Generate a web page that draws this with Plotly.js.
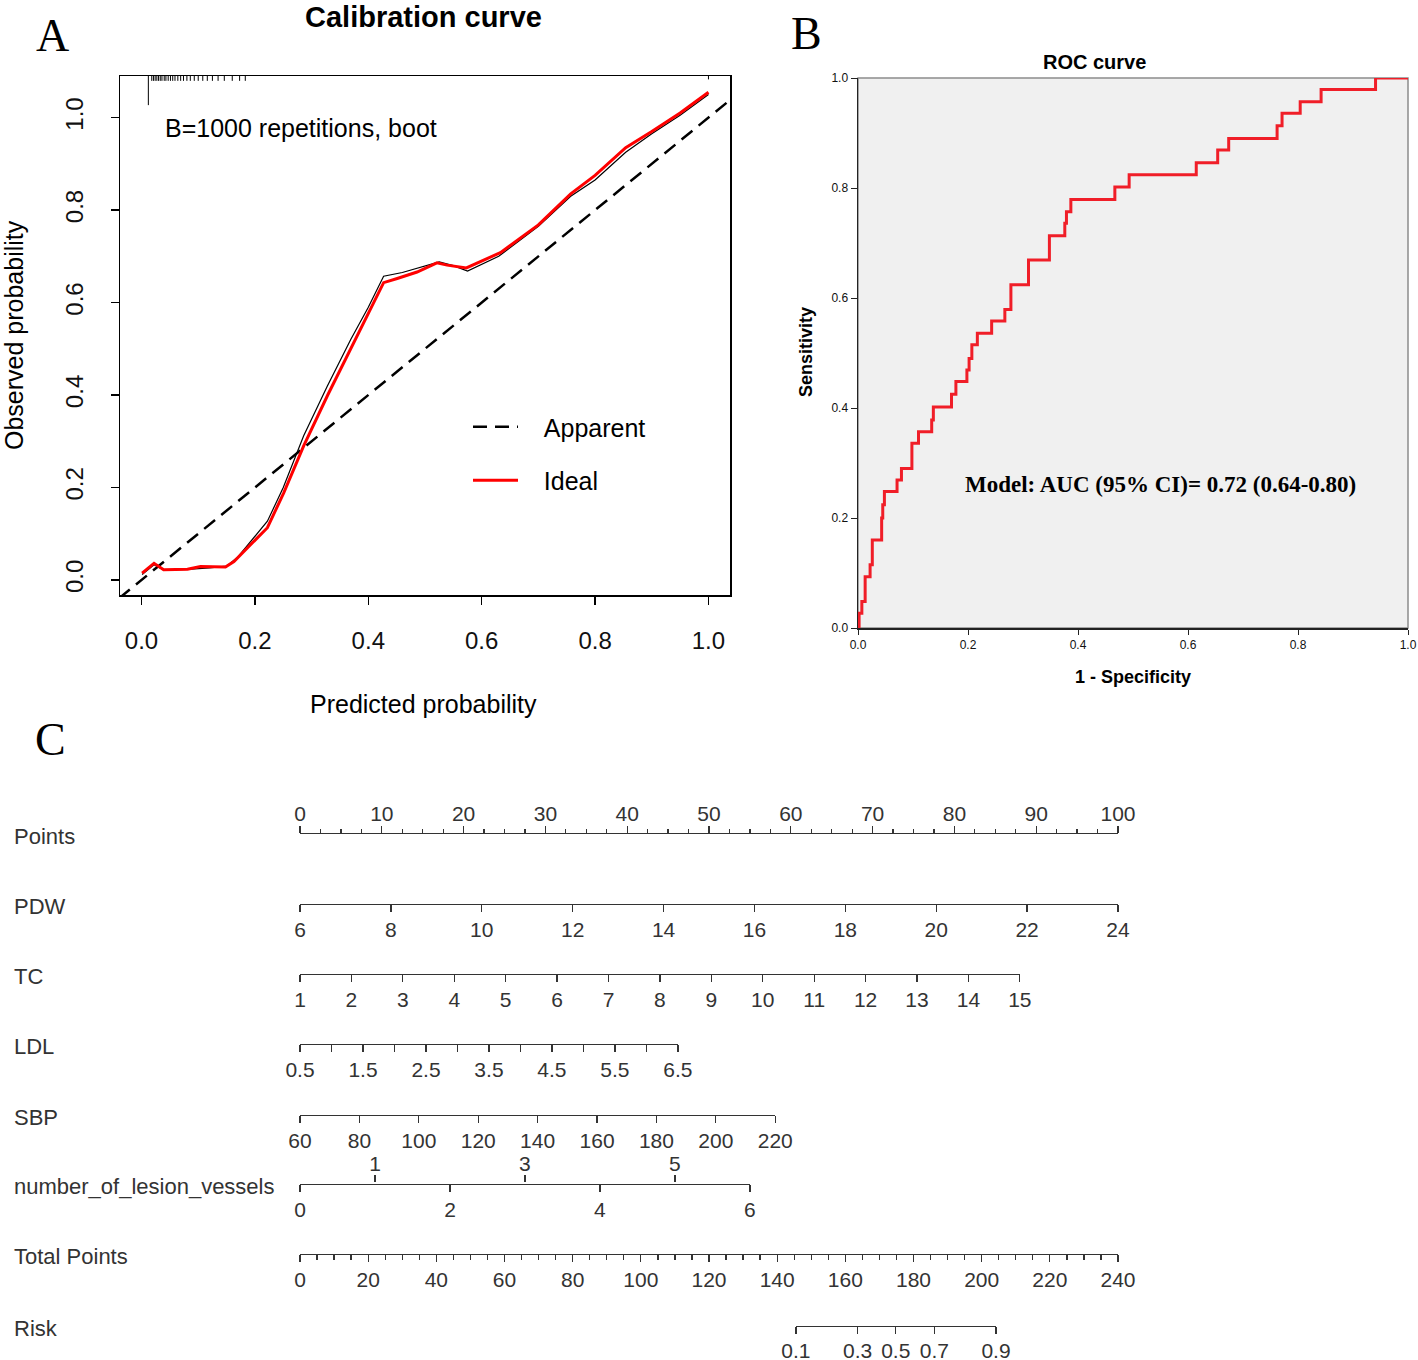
<!DOCTYPE html>
<html><head><meta charset="utf-8">
<script src="https://cdn.plot.ly/plotly-3.0.1.min.js"></script>
<style>html,body{margin:0;padding:0;background:#fff}#chart{width:1418px;height:1360px}</style>
</head><body><div id="chart"></div>
<script>
// ---------------- Panel A: calibration curve ----------------
const calTicks = [0, 0.2, 0.4, 0.6, 0.8, 1.0];
const calXRange = [-0.038, 1.038];
const calYRange = [-0.0325, 1.09];
const calDiagX = [-0.1, 1.1];
const calDiagY = [-0.1, 1.1];
const calRedX = [0.001,0.022,0.039,0.081,0.104,0.122,0.148,0.163,0.222,0.251,0.286,0.328,0.369,0.398,0.427,0.451,0.486,0.521,0.539,0.573,0.633,0.700,0.757,0.800,0.854,0.900,0.950,1.000];
const calRedY = [0.015,0.036,0.022,0.023,0.029,0.028,0.028,0.040,0.113,0.189,0.290,0.399,0.501,0.574,0.643,0.652,0.666,0.686,0.681,0.675,0.708,0.768,0.835,0.875,0.935,0.970,1.010,1.055];
const calBlackX = [0.001,0.022,0.039,0.081,0.120,0.150,0.170,0.222,0.250,0.286,0.328,0.369,0.400,0.427,0.460,0.490,0.525,0.550,0.575,0.630,0.700,0.757,0.800,0.854,0.900,0.950,1.000];
const calBlackY = [0.012,0.033,0.022,0.023,0.026,0.030,0.050,0.127,0.200,0.312,0.420,0.520,0.590,0.657,0.665,0.675,0.688,0.680,0.668,0.700,0.765,0.830,0.865,0.925,0.965,1.005,1.050];
const rugX = [0.012,0.018,0.021,0.024,0.027,0.030,0.033,0.036,0.040,0.043,0.047,0.051,0.055,0.059,0.064,0.069,0.074,0.080,0.086,0.093,0.100,0.108,0.116,0.125,0.135,0.146,0.160,0.173,0.183,1.0];
const rugFreq = [6,1,1,1,1,1,1,1,1,1,1,1,1,1,1,1,1,1,1,1,1,1,1,1,1,1,1,1,1,0.7];
const calNote = 'B=1000 repetitions, boot';
const calLegendNames = ['Apparent', 'Ideal'];

// ---------------- Panel B: ROC curve ----------------
const rocFpr = [0,0.002,0.002,0.007,0.007,0.013,0.013,0.022,0.022,0.026,0.026,0.043,0.043,0.045,0.045,0.048,0.048,0.071,0.071,0.079,0.079,0.098,0.098,0.110,0.110,0.134,0.134,0.137,0.137,0.170,0.170,0.178,0.178,0.198,0.198,0.202,0.202,0.207,0.207,0.217,0.217,0.243,0.243,0.267,0.267,0.278,0.278,0.310,0.310,0.348,0.348,0.376,0.376,0.379,0.379,0.387,0.387,0.467,0.467,0.493,0.493,0.615,0.615,0.654,0.654,0.674,0.674,0.762,0.762,0.771,0.771,0.804,0.804,0.842,0.842,0.941,0.941,1.0];
const rocTpr = [0,0,0.027,0.027,0.048,0.048,0.093,0.093,0.115,0.115,0.160,0.160,0.200,0.200,0.224,0.224,0.248,0.248,0.269,0.269,0.290,0.290,0.336,0.336,0.357,0.357,0.378,0.378,0.402,0.402,0.425,0.425,0.448,0.448,0.469,0.469,0.490,0.490,0.515,0.515,0.536,0.536,0.558,0.558,0.579,0.579,0.624,0.624,0.669,0.669,0.713,0.713,0.736,0.736,0.757,0.757,0.779,0.779,0.802,0.802,0.824,0.824,0.846,0.846,0.869,0.869,0.890,0.890,0.913,0.913,0.936,0.936,0.957,0.957,0.979,0.979,1.0,1.0];
const rocTicks = [0, 0.2, 0.4, 0.6, 0.8, 1.0];
const rocAucText = 'Model: AUC (95% CI)= 0.72 (0.64-0.80)';

// ---------------- Panel C: nomogram ----------------
const nomRowNames = ['Points','PDW','TC','LDL','SBP','number_of_lesion_vessels','Total Points','Risk'];
const pointsTicks = [0,10,20,30,40,50,60,70,80,90,100];
const pdwTicks = [6,8,10,12,14,16,18,20,22,24];
const pdwMaxPoints = 100;
const tcTicks = [1,2,3,4,5,6,7,8,9,10,11,12,13,14,15];
const tcMaxPoints = 88;
const ldlTicks = [0.5,1,1.5,2,2.5,3,3.5,4,4.5,5,5.5,6,6.5];
const ldlLabels = [0.5,1.5,2.5,3.5,4.5,5.5,6.5];
const ldlMaxPoints = 46.2;
const sbpTicks = [60,80,100,120,140,160,180,200,220];
const sbpMaxPoints = 58.1;
const lesionTicksBelow = [0,2,4,6];
const lesionTicksAbove = [1,3,5];
const lesionMaxPoints = 55;
const totalTicks = [0,20,40,60,80,100,120,140,160,180,200,220,240];
const riskLabels = ['0.1','0.3','0.5','0.7','0.9'];
const riskTotalPoints = [145.5,163.6,174.8,186.1,204.2];

// ---------------- layout helpers ----------------
const W = 1418, H = 1360;
const fx = p => p / W;
const fy = p => 1 - p / H;
const SANS = 'Liberation Sans, Arial, sans-serif';
const SERIF = 'Liberation Serif, Times New Roman, serif';
const GAP = '\u00a0\u00a0\u00a0';

const traces = [];
// rug
const rugTop = calYRange[1];
const rugUnit = 0.0105;
const rugXs = [], rugYs = [];
rugX.forEach((v, i) => { rugXs.push(v, v, null); rugYs.push(rugTop, rugTop - rugFreq[i] * rugUnit, null); });
traces.push({type:'scatter', mode:'lines', x:rugXs, y:rugYs, xaxis:'x', yaxis:'y', line:{color:'#000', width:1}, showlegend:false, hoverinfo:'skip'});
traces.push({type:'scatter', mode:'lines', x:calDiagX, y:calDiagY, xaxis:'x', yaxis:'y', name:GAP + calLegendNames[0], legendgroup:'a', line:{color:'#000', width:2.5, dash:'14px,8px'}});
traces.push({type:'scatter', mode:'lines', x:calBlackX, y:calBlackY, xaxis:'x', yaxis:'y', line:{color:'#000', width:1.2}, showlegend:false, hoverinfo:'skip'});
traces.push({type:'scatter', mode:'lines', x:calRedX, y:calRedY, xaxis:'x', yaxis:'y', name:GAP + calLegendNames[1], legendgroup:'b', line:{color:'#ff0000', width:3}});
// ROC
traces.push({type:'scatter', mode:'lines', x:rocFpr, y:rocTpr, xaxis:'x2', yaxis:'y2', line:{color:'rgb(240,30,40)', width:3}, showlegend:false});

const layout = {
  width: W, height: H,
  margin: {l:0, r:0, t:0, b:0},
  paper_bgcolor: '#fff', plot_bgcolor: '#fff',
  font: {family: SANS, color: '#000'},
  showlegend: true,
  legend: {x: fx(468), y: fy(404), xanchor:'left', yanchor:'top', bgcolor:'rgba(0,0,0,0)', font:{size:25, family:SANS}, itemwidth:45, tracegroupgap:18},
  xaxis: {domain:[fx(120), fx(730)], range:calXRange, anchor:'y', showline:true, mirror:true, linecolor:'#000', linewidth:1.5,
          tickmode:'array', tickvals:calTicks, tickformat:'.1f', ticks:'outside', ticklen:8, tickwidth:1.3, tickcolor:'#000',
          tickfont:{size:24, color:'#111'}, ticklabelstandoff:16, showgrid:false, zeroline:false, fixedrange:true},
  yaxis: {domain:[fy(595), fy(76)], range:calYRange, anchor:'x', showline:true, mirror:true, linecolor:'#000', linewidth:1.5,
          tickmode:'array', tickvals:calTicks, tickformat:'.1f', ticks:'outside', ticklen:8, tickwidth:1.3, tickcolor:'#000',
          tickangle:-90, tickfont:{size:24, color:'#111'}, ticklabelstandoff:18, showgrid:false, zeroline:false, fixedrange:true},
  xaxis2: {domain:[fx(858), fx(1408)], range:[0,1], anchor:'y2', showline:true, linecolor:'#222', linewidth:1.5,
           tickmode:'array', tickvals:rocTicks, tickformat:'.1f', ticks:'outside', ticklen:5, tickcolor:'#222',
           tickfont:{size:12, color:'#111'}, showgrid:false, zeroline:false, fixedrange:true},
  yaxis2: {domain:[fy(628), fy(78)], range:[0,1], anchor:'x2', showline:true, linecolor:'#222', linewidth:1.5,
           tickmode:'array', tickvals:rocTicks, tickformat:'.1f', ticks:'outside', ticklen:6, tickcolor:'#222',
           tickfont:{size:12, color:'#111'}, showgrid:false, zeroline:false, fixedrange:true},
  shapes: [
    {type:'rect', xref:'x2 domain', yref:'y2 domain', x0:0, x1:1, y0:0, y1:1, fillcolor:'#f0f0f0', line:{color:'#8c8c8c', width:1.5}, layer:'below'}
  ],
  annotations: []
};

// calibration texts
layout.annotations.push(
  {text:'<b>Calibration curve</b>', xref:'paper', yref:'paper', x:fx(423), y:fy(17), xanchor:'center', yanchor:'middle', showarrow:false, font:{size:29, family:SANS}},
  {text:'Predicted probability', xref:'paper', yref:'paper', x:fx(424), y:fy(704), xanchor:'center', yanchor:'middle', showarrow:false, font:{size:25, family:SANS}},
  {text:'Observed probability', xref:'paper', yref:'paper', x:fx(14), y:fy(335), xanchor:'center', yanchor:'middle', textangle:-90, showarrow:false, font:{size:25, family:SANS}},
  {text:calNote, xref:'x', yref:'y', x:0.038, y:0.978, xanchor:'left', yanchor:'middle', showarrow:false, font:{size:25, family:SANS}},
  {text:'A', xref:'paper', yref:'paper', x:fx(52), y:fy(35), xanchor:'center', yanchor:'middle', showarrow:false, font:{size:46, family:SERIF}},
  {text:'B', xref:'paper', yref:'paper', x:fx(806), y:fy(33), xanchor:'center', yanchor:'middle', showarrow:false, font:{size:46, family:SERIF}},
  {text:'C', xref:'paper', yref:'paper', x:fx(50), y:fy(740), xanchor:'center', yanchor:'middle', showarrow:false, font:{size:46, family:SERIF}},
  // ROC texts
  {text:'<b>ROC curve</b>', xref:'paper', yref:'paper', x:fx(1094), y:fy(62), xanchor:'center', yanchor:'middle', showarrow:false, font:{size:20, family:SANS}},
  {text:'<b>Sensitivity</b>', xref:'paper', yref:'paper', x:fx(806), y:fy(352), xanchor:'center', yanchor:'middle', textangle:-90, showarrow:false, font:{size:18, family:SANS}},
  {text:'<b>1 - Specificity</b>', xref:'paper', yref:'paper', x:fx(1133), y:fy(677), xanchor:'center', yanchor:'middle', showarrow:false, font:{size:18, family:SANS}},
  {text:'<b>' + rocAucText + '</b>', xref:'paper', yref:'paper', x:fx(1160), y:fy(484), xanchor:'center', yanchor:'middle', showarrow:false, font:{size:23, family:SERIF}}
);

// nomogram rows
const nomX0 = fx(300), nomX1 = fx(1118), nomSpan = nomX1 - nomX0;
const rowLineY = [834, 904, 974, 1044, 1115, 1184, 1254, 1326];
const nomFont = {size:21, color:'#333', family:SANS};
const thin = 0.001;
function baseAxis(extra) {
  return Object.assign({showline:true, linecolor:'#333', linewidth:1.3, ticks:'outside', ticklen:7, tickwidth:1.3, tickcolor:'#333',
    tickfont:nomFont, showgrid:false, zeroline:false, fixedrange:true, ticklabelstandoff:-1}, extra);
}
function addRow(i, ticks, domainEnd, axisExtra, side) {
  const n = 3 + i;
  const xa = 'xaxis' + n, ya = 'yaxis' + n;
  const yline = fy(rowLineY[i]);
  layout[ya] = {domain: side === 'top' ? [yline - thin, yline] : [yline, yline + thin], range:[0,1], visible:false, fixedrange:true, anchor:'x'+n};
  layout[xa] = baseAxis(Object.assign({domain:[nomX0, domainEnd], anchor:'y'+n, side:side}, axisExtra));
  traces.push({type:'scatter', mode:'markers', x:ticks, y:ticks.map(() => 0), xaxis:'x'+n, yaxis:'y'+n, marker:{opacity:0}, hoverinfo:'skip', showlegend:false});
}
addRow(0, pointsTicks, nomX1, {range:[0,100], tickmode:'array', tickvals:pointsTicks, ticklabelstandoff:-4,
  minor:{tickmode:'linear', tick0:0, dtick:2.5, ticks:'outside', ticklen:4, tickwidth:1.3, tickcolor:'#333', showgrid:false}}, 'top');
addRow(1, pdwTicks, nomX0 + nomSpan * pdwMaxPoints / 100, {range:[pdwTicks[0], pdwTicks[pdwTicks.length-1]], tickmode:'array', tickvals:pdwTicks}, 'bottom');
addRow(2, tcTicks, nomX0 + nomSpan * tcMaxPoints / 100, {range:[tcTicks[0], tcTicks[tcTicks.length-1]], tickmode:'array', tickvals:tcTicks}, 'bottom');
addRow(3, ldlTicks, nomX0 + nomSpan * ldlMaxPoints / 100, {range:[ldlTicks[0], ldlTicks[ldlTicks.length-1]], tickmode:'array', tickvals:ldlLabels,
  minor:{tickmode:'array', tickvals:ldlTicks, ticks:'outside', ticklen:7, tickwidth:1.3, tickcolor:'#333', showgrid:false}}, 'bottom');
addRow(4, sbpTicks, nomX0 + nomSpan * sbpMaxPoints / 100, {range:[sbpTicks[0], sbpTicks[sbpTicks.length-1]], tickmode:'array', tickvals:sbpTicks}, 'bottom');
addRow(5, lesionTicksBelow, nomX0 + nomSpan * lesionMaxPoints / 100, {range:[lesionTicksBelow[0], lesionTicksBelow[lesionTicksBelow.length-1]], tickmode:'array', tickvals:lesionTicksBelow}, 'bottom');
// lesion upper ticks (odd values) on the same line
layout.xaxis11 = baseAxis({overlaying:'x8', anchor:'y8', side:'top', showline:false, ticklabelstandoff:-5,
  range:[lesionTicksBelow[0], lesionTicksBelow[lesionTicksBelow.length-1]], tickmode:'array', tickvals:lesionTicksAbove});
traces.push({type:'scatter', mode:'markers', x:lesionTicksAbove, y:lesionTicksAbove.map(() => 0), xaxis:'x11', yaxis:'y8', marker:{opacity:0}, hoverinfo:'skip', showlegend:false});
addRow(6, totalTicks, nomX1, {range:[0,240], tickmode:'array', tickvals:totalTicks,
  minor:{tickmode:'linear', tick0:0, dtick:5, ticks:'outside', ticklen:5, tickwidth:1.3, tickcolor:'#333', showgrid:false}}, 'bottom');
const totalMax = totalTicks[totalTicks.length-1];
addRow(7, riskTotalPoints, nomX0 + nomSpan * riskTotalPoints[riskTotalPoints.length-1] / totalMax,
  {range:[riskTotalPoints[0], riskTotalPoints[riskTotalPoints.length-1]], tickmode:'array', tickvals:riskTotalPoints, ticktext:riskLabels, ticklabelstandoff:-2}, 'bottom');
layout.xaxis10.domain = [nomX0 + nomSpan * riskTotalPoints[0] / totalMax, nomX0 + nomSpan * riskTotalPoints[riskTotalPoints.length-1] / totalMax];

nomRowNames.forEach((name, i) => {
  layout.annotations.push({text:name, xref:'paper', yref:'paper', x:fx(12), y:fy(rowLineY[i] + 2), xanchor:'left', yanchor:'middle', showarrow:false, font:{size:22, color:'#333', family:SANS}});
});

Plotly.newPlot('chart', traces, layout, {displayModeBar:false, staticPlot:true});
</script>
</body></html>
